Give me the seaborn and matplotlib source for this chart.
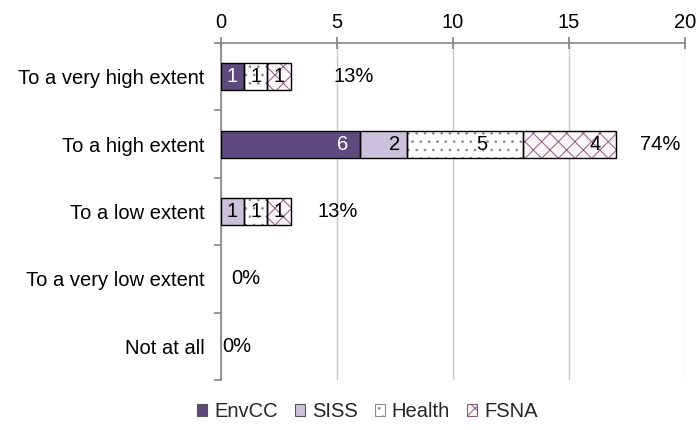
import matplotlib
matplotlib.use("Agg")
import matplotlib.pyplot as plt
from matplotlib.patches import Patch, Rectangle
import seaborn as sns
import pandas as pd
import numpy as np

categories = ["To a very high extent", "To a high extent", "To a low extent",
              "To a very low extent", "Not at all"]
series = ["EnvCC", "SISS", "Health", "FSNA"]
envcc = [1, 6, 0, 0, 0]
siss = [0, 2, 1, 0, 0]
health = [1, 5, 1, 0, 0]
fsna = [1, 4, 1, 0, 0]
percent_labels = ["13%", "74%", "13%", "0%", "0%"]

# layout (text positions, not data)
pct_offset = [1.83, 1.06, 1.18, 0.43, 0.04]
seg_label_shift = {  # distance of label centre from segment end, in data units
    (1, 0): 0.74, (1, 1): 0.5, (1, 2): 1.75, (1, 3): 0.9,
}

values = [envcc, siss, health, fsna]
face = ["#5F4A7D", "#CCC1DA", "#FFFFFF", "#FCF5F9"]
hatch_col = [None, None, "#8E8896", "#8A5F7E"]
hatches = [None, None, "..", "xx"]
txt_col = ["white", "black", "black", "black"]

sns.set_theme(style="white")
plt.rcParams["font.family"] = ["Liberation Sans", "DejaVu Sans"]
plt.rcParams["hatch.linewidth"] = 0.7
FS = 14.5

fig = plt.figure(figsize=(6.97, 4.30), dpi=100)
ax = fig.add_axes([0.317, 0.116, 0.666, 0.784])

cum = np.zeros(len(categories))
cums = []
for v in values:
    cum = cum + np.array(v)
    cums.append(cum.copy())

# draw from back (total) to front
for i in reversed(range(len(series))):
    d = pd.DataFrame({"category": categories, "x": cums[i]})
    before = len(ax.patches)
    kw = dict(facecolor=face[i], linewidth=0)
    if hatches[i]:
        kw.update(hatch=hatches[i], edgecolor=hatch_col[i])
    sns.barplot(data=d, x="x", y="category", order=categories, orient="h",
                width=0.4, ax=ax, **kw)
    new = ax.patches[before:]
    for j, p in enumerate(new):
        left = cums[i][j] - values[i][j]
        if values[i][j] <= 0:
            continue
        ax.add_patch(Rectangle((left, p.get_y()), values[i][j], p.get_height(),
                               fill=False, edgecolor="black", linewidth=1.0, zorder=3))

# segment labels
for i in range(len(series)):
    for j in range(len(categories)):
        v = values[i][j]
        if v <= 0:
            continue
        end = cums[i][j]
        shift = seg_label_shift.get((j, i), v / 2.0)
        ax.text(end - shift, j, str(v), ha="center", va="center",
                color=txt_col[i], fontsize=FS, zorder=4)

# percent labels
for j in range(len(categories)):
    ax.text(cums[-1][j] + pct_offset[j], j, percent_labels[j], ha="left",
            va="center", color="black", fontsize=FS, zorder=4)

ax.set_xlim(0, 20)
ax.set_ylim(4.5, -0.5)
ax.set_xticks([0, 5, 10, 15, 20])
ax.xaxis.tick_top()
ax.xaxis.set_label_position("top")
ax.set_xlabel("")
ax.set_ylabel("")
ax.grid(axis="x", color="#C8C8C8", linewidth=1)
ax.grid(axis="y", visible=False)
ax.set_axisbelow(True)

for s in ["right", "bottom"]:
    ax.spines[s].set_visible(False)
for s in ["top", "left"]:
    ax.spines[s].set_color("#868686")
    ax.spines[s].set_linewidth(1.2)

ax.tick_params(axis="x", which="major", top=True, bottom=False, direction="inout",
               length=8, color="#868686", labelsize=FS, pad=4, labelcolor="black")
ax.set_yticks(range(len(categories)))
ax.set_yticklabels(categories)
ax.tick_params(axis="y", which="major", length=0, pad=12, labelsize=FS, labelcolor="black")
ax.set_yticks(np.arange(-0.5, 5.0, 1.0), minor=True)
ax.tick_params(axis="y", which="minor", left=True, direction="out", length=5,
               color="#868686", width=1.2)

handles = []
for i in range(len(series)):
    handles.append(Patch(facecolor=face[i], edgecolor=hatch_col[i] or "#555555",
                         hatch=hatches[i], linewidth=0.8, label=series[i]))
fig.legend(handles=handles, loc="center", bbox_to_anchor=(0.527, 0.043), ncol=4,
           frameon=False, fontsize=FS, handlelength=0.5, handleheight=0.5,
           handletextpad=0.35, columnspacing=0.85)

fig.savefig("out.png", dpi=100)
